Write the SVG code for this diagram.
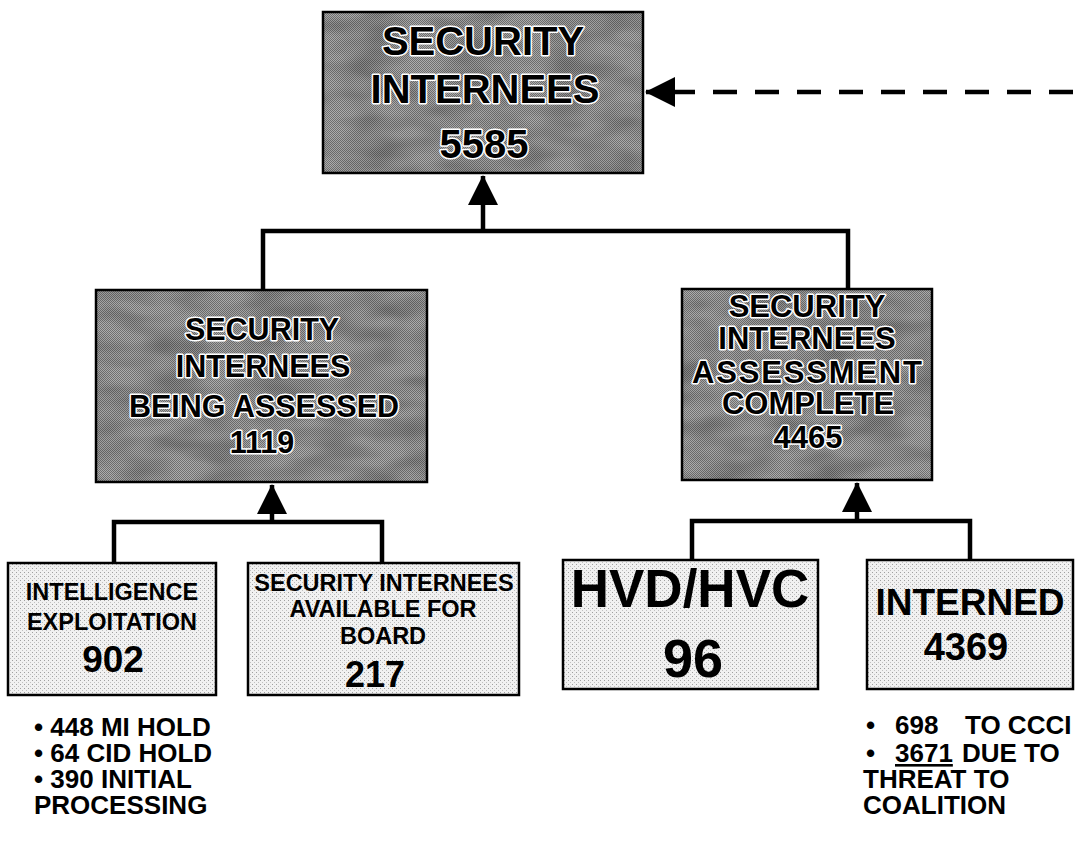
<svg xmlns="http://www.w3.org/2000/svg" width="1087" height="842" viewBox="0 0 1087 842">
<defs>
<pattern id="dark" width="2" height="2" patternUnits="userSpaceOnUse">
<rect width="2" height="2" fill="#adadad"/>
<rect x="0" y="0" width="1" height="1" fill="#707070"/>
<rect x="1" y="1" width="1" height="1" fill="#707070"/>
</pattern>
<pattern id="light" width="4" height="4" patternUnits="userSpaceOnUse">
<rect width="4" height="4" fill="#f1f1f1"/>
<rect x="0" y="0" width="1" height="1" fill="#a0a0a0"/>
<rect x="2" y="2" width="1" height="1" fill="#c0c0c0"/>
</pattern>
<filter id="blotch" x="0" y="0" width="1" height="1">
<feTurbulence type="fractalNoise" baseFrequency="0.02 0.05" numOctaves="2" seed="4" result="n"/>
<feColorMatrix in="n" type="matrix" values="0 0 0 0 0  0 0 0 0 0  0 0 0 0 0  0 0 0 0.9 -0.3" result="m"/>
<feComposite in="m" in2="SourceGraphic" operator="in"/>
</filter>
<marker id="arr" viewBox="0 0 30 30" refX="29" refY="15" markerWidth="30" markerHeight="30" markerUnits="userSpaceOnUse" orient="auto">
<path d="M0,0 L30,15 L0,30 z" fill="#000"/>
</marker>
</defs>
<style>
.dbox { fill: url(#dark); stroke: #000; stroke-width: 2.5; }
.lbox { fill: url(#light); stroke: #000; stroke-width: 2.5; }
.dt { font-family: "Liberation Sans", Arial, sans-serif; font-weight: bold; fill: #000; stroke: #fff; stroke-width: 3; paint-order: stroke; stroke-linejoin: round; text-anchor: middle; }
.lt { font-family: "Liberation Sans", Arial, sans-serif; font-weight: bold; fill: #000; text-anchor: middle; }
.bt { font-family: "Liberation Sans", Arial, sans-serif; font-weight: bold; fill: #000; font-size: 26px; }
.conn { fill: none; stroke: #000; stroke-width: 4.5; }
</style>
<rect width="1087" height="842" fill="#fff"/>

<g id="connectors">
<path class="conn" d="M263,289 V231 H848 V289"/>
<path class="conn" d="M483,231 V176" marker-end="url(#arr)"/>
<path class="conn" d="M114,563 V522 H382 V563"/>
<path class="conn" d="M272,522 V485" marker-end="url(#arr)"/>
<path class="conn" d="M692,560 V521 H970 V560"/>
<path class="conn" d="M857,521 V483" marker-end="url(#arr)"/>
<path class="conn" d="M695,92 H646" stroke-width="6" marker-end="url(#arr)"/>
<path class="conn" d="M713,92 H1087" stroke-width="6" stroke-dasharray="24 18"/>
</g>

<g id="node-security-internees">
<rect class="dbox" x="323" y="12" width="320" height="161"/>
<rect x="323" y="12" width="320" height="161" fill="#000" filter="url(#blotch)" opacity="0.5"/>
<text class="dt" x="483" y="55" font-size="40">SECURITY</text>
<text class="dt" x="485" y="103" font-size="40">INTERNEES</text>
<text class="dt" x="484" y="158" font-size="40">5585</text>
</g>

<g id="node-being-assessed">
<rect class="dbox" x="96" y="290" width="331" height="192"/>
<rect x="96" y="290" width="331" height="192" fill="#000" filter="url(#blotch)" opacity="0.5"/>
<text class="dt" x="262" y="340" font-size="30.5">SECURITY</text>
<text class="dt" x="263" y="377" font-size="30.5">INTERNEES</text>
<text class="dt" x="264" y="417" font-size="30.5">BEING ASSESSED</text>
<text class="dt" x="262" y="453" font-size="30.5">1119</text>
</g>

<g id="node-assessment-complete">
<rect class="dbox" x="682" y="289" width="250" height="191"/>
<rect x="682" y="289" width="250" height="191" fill="#000" filter="url(#blotch)" opacity="0.5"/>
<text class="dt" x="807" y="317" font-size="31">SECURITY</text>
<text class="dt" x="807" y="349" font-size="31">INTERNEES</text>
<text class="dt" x="807" y="383" font-size="31" textLength="230">ASSESSMENT</text>
<text class="dt" x="808" y="414" font-size="31">COMPLETE</text>
<text class="dt" x="808" y="448" font-size="31">4465</text>
</g>

<g id="node-intelligence">
<rect class="lbox" x="8" y="563" width="208" height="132"/>
<text class="lt" x="112" y="600" font-size="23.5">INTELLIGENCE</text>
<text class="lt" x="112" y="630" font-size="23.5">EXPLOITATION</text>
<text class="lt" x="113" y="672" font-size="37">902</text>
</g>

<g id="node-available-for-board">
<rect class="lbox" x="248" y="563" width="271" height="132"/>
<text class="lt" x="384" y="591" font-size="23.5">SECURITY INTERNEES</text>
<text class="lt" x="383" y="617" font-size="23.5">AVAILABLE FOR</text>
<text class="lt" x="383" y="644" font-size="23.5">BOARD</text>
<text class="lt" x="375" y="687" font-size="36">217</text>
</g>

<g id="node-hvd-hvc">
<rect class="lbox" x="563" y="560" width="255" height="129"/>
<text class="lt" x="690" y="607" font-size="53">HVD/HVC</text>
<text class="lt" x="693" y="677" font-size="54">96</text>
</g>

<g id="node-interned">
<rect class="lbox" x="867" y="560" width="206" height="129"/>
<text class="lt" x="970" y="615" font-size="37">INTERNED</text>
<text class="lt" x="966" y="660" font-size="38">4369</text>
</g>

<g id="notes-left">
<text class="bt" x="34" y="736">• 448 MI HOLD</text>
<text class="bt" x="34" y="762">• 64 CID HOLD</text>
<text class="bt" x="34" y="788">• 390 INITIAL</text>
<text class="bt" x="34" y="814">PROCESSING</text>
</g>

<g id="notes-right">
<text class="bt" x="866" y="734" font-size="27">•<tspan x="895">698</tspan><tspan x="965">TO CCCI</tspan></text>
<text class="bt" x="866" y="762" font-size="27">•<tspan x="895" text-decoration="underline">3671</tspan><tspan x="962">DUE TO</tspan></text>
<text class="bt" x="863" y="788" font-size="27">THREAT TO</text>
<text class="bt" x="863" y="814" font-size="27">COALITION</text>
</g>
</svg>
